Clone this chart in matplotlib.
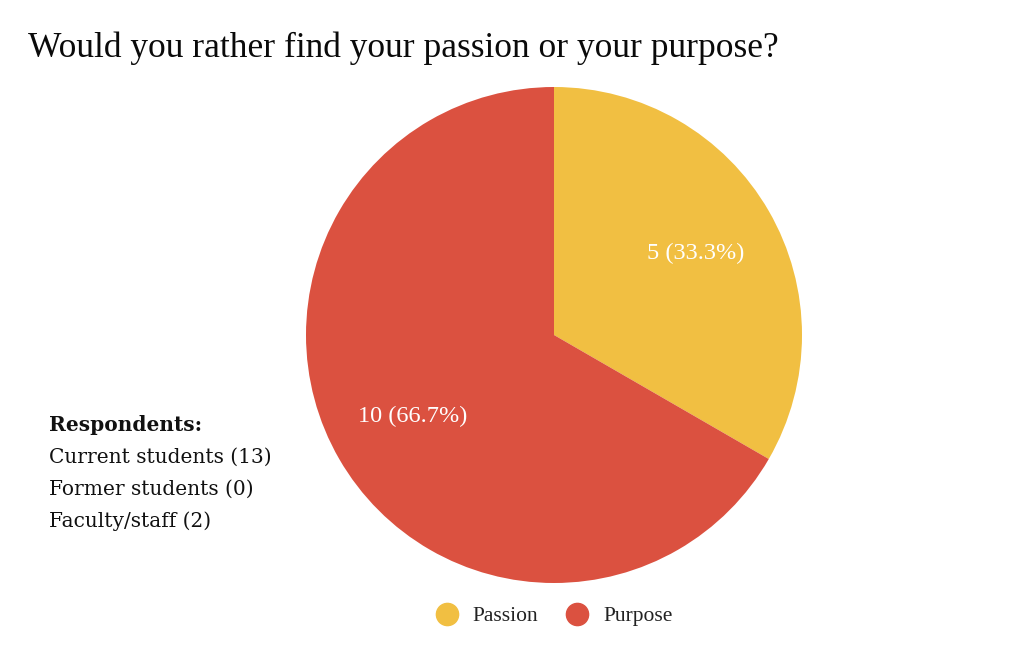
import matplotlib
matplotlib.use("Agg")
import matplotlib.pyplot as plt
from matplotlib.lines import Line2D

categories = ["Passion", "Purpose"]
counts = [5, 10]
colors = ["#F1BF42", "#DB5140"]
respondent_groups = ["Current students", "Former students", "Faculty/staff"]
respondent_counts = [13, 0, 2]

fig = plt.figure(figsize=(10.24, 6.51), dpi=100)
fig.patch.set_facecolor("white")

ax = fig.add_axes([306 / 1024, 1 - 583 / 651, 496 / 1024, 496 / 651])
total = sum(counts)


def fmt(pct):
    n = round(pct * total / 100)
    return f"{n} ({pct:.1f}%)"


wedges, texts, autotexts = ax.pie(
    counts, colors=colors, startangle=90, counterclock=False,
    autopct=fmt, pctdistance=0.66, radius=1.0,
    wedgeprops=dict(linewidth=0),
    textprops=dict(color="white", fontsize=17.5, family="Liberation Serif"),
)
ax.set_xlim(-1, 1)
ax.set_ylim(-1, 1)
ax.set_aspect("equal")

fig.text(28 / 1024, 1 - 48 / 651, "Would you rather find your passion or your purpose?",
         fontsize=25.5, family="Liberation Serif", va="center", ha="left", color="#0a0a0a")

handles = [Line2D([], [], marker="o", linestyle="none", markersize=16,
                  markerfacecolor=c, markeredgecolor=c) for c in colors]
fig.legend(handles, categories, loc="center", bbox_to_anchor=(549 / 1024, 1 - 616 / 651),
           ncol=2, frameon=False, handletextpad=0.22, columnspacing=0.8,
           prop=dict(family="Liberation Serif", size=15.5), labelcolor="#222222")

fig.text(49 / 1024, 1 - 425 / 651, "Respondents:", fontsize=14.5, family="DejaVu Serif",
         fontweight="bold", va="center", ha="left", color="#111111")
for i, (g, n) in enumerate(zip(respondent_groups, respondent_counts)):
    fig.text(49 / 1024, 1 - (457 + 32 * i) / 651, f"{g} ({n})", fontsize=14.5,
             family="DejaVu Serif", va="center", ha="left", color="#111111")

fig.savefig("out.png", dpi=100, facecolor="white")
